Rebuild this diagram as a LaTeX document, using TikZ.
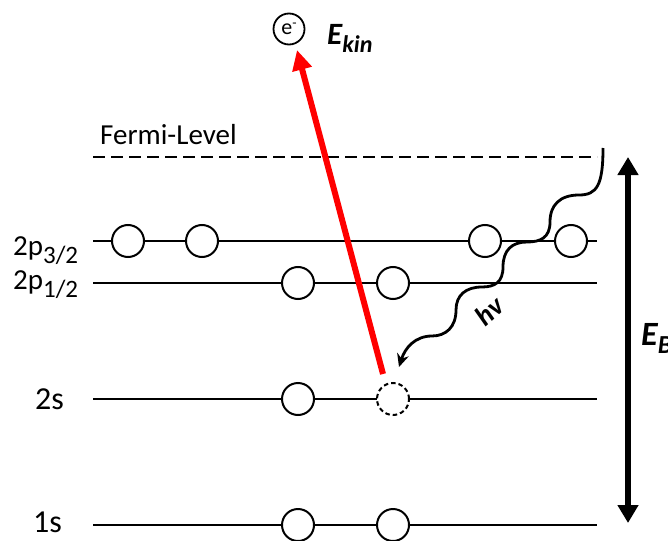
\documentclass[tikz,border=0pt]{standalone}
\usepackage{fontspec}
\setmainfont{Carlito}
\usetikzlibrary{arrows.meta}
\begin{document}
\begin{tikzpicture}[x=1pt,y=-1pt,
  level/.style={line width=2.5pt},
  elec/.style={circle,draw,line width=2pt,fill=white,minimum size=32pt,inner sep=0pt},
  lab/.style={anchor=base west,inner sep=0pt,font=\fontsize{32}{36}\selectfont},
  biglab/.style={anchor=base west,inner sep=0pt,font=\fontsize{32}{36}\selectfont\bfseries\itshape}]
\useasboundingbox (0,0) rectangle (668,540);
% level end points
\coordinate (fL) at (93,157);  \coordinate (fR) at (597,157);
\coordinate (pAL) at (93,241); \coordinate (pAR) at (597,241);
\coordinate (pBL) at (93,283); \coordinate (pBR) at (597,283);
\coordinate (sAL) at (93,399); \coordinate (sAR) at (597,399);
\coordinate (sBL) at (93,525); \coordinate (sBR) at (597,525);
\draw[level,dash pattern=on 12pt off 6pt] (fL) -- (fR);
\draw[level] (pAL) -- (pAR);
\draw[level] (pBL) -- (pBR);
\draw[level] (sAL) -- (sAR);
\draw[level] (sBL) -- (sBR);
% labels
\node[lab,font=\fontsize{29}{32}\selectfont] (fermi) at (100,145) {Fermi-Level};
\node[lab,font=\fontsize{29}{32}\selectfont] (l2p3) at (13,255) {2p\raisebox{-8pt}{\fontsize{25}{28}\selectfont 3/2}};
\node[lab,font=\fontsize{29}{32}\selectfont] (l2p1) at (13,289) {2p\raisebox{-8pt}{\fontsize{25}{28}\selectfont 1/2}};
\node[lab] (l2s) at (35,409) {2s};
\node[lab] (l1s) at (33,532) {1s};
% electrons
\node[elec] (a1) at (128,241) {};
\node[elec] (a2) at (202,241) {};
\node[elec] (a3) at (485,241) {};
\node[elec] (a4) at (571,241) {};
\node[elec] (b1) at (298,283) {};
\node[elec] (b2) at (393,283) {};
\node[elec] (c1) at (298,399) {};
\node[elec,dash pattern=on 4.5pt off 3pt] (hole) at (393,399) {};
\node[elec] (d1) at (298,525) {};
\node[elec] (d2) at (393,525) {};
% emitted electron
\node[circle,draw,line width=1.8pt,minimum size=31pt,inner sep=0pt] (el) at (289,29) {\fontsize{22}{24}\selectfont e\raisebox{7pt}{\fontsize{14}{14}\selectfont -}};
\node[biglab,font=\fontsize{31}{34}\selectfont\bfseries\itshape] (ekin) at (327,45) {E\raisebox{-8pt}{\fontsize{24}{26}\selectfont kin}};
% red arrow
\coordinate (rs) at (383,374);
\coordinate (rt) at (297,50);
\draw[red,line width=6pt,-{Triangle[length=20pt,width=19pt]}] (rs) -- (rt);
% photon
\coordinate (ws) at (603,148);
\coordinate (wt) at (399,367);
\draw[line width=2.8pt,-{Stealth[length=13pt,width=12pt]}] (ws)
  .. controls (603,185) and (597,195) .. (579,195)
  .. controls (560,195) and (550,205) .. (550,222)
  .. controls (550,238) and (540,242) .. (527,242)
  .. controls (512,242) and (503,250) .. (503,267)
  .. controls (503,282) and (495,287) .. (482,287)
  .. controls (466,287) and (456,295) .. (456,310)
  .. controls (456,327) and (446,336) .. (432,336)
  .. controls (415,336) and (405,348) .. (wt);
\node[rotate=42,font=\fontsize{28}{30}\selectfont\bfseries\itshape] (hv) at (489,311) {hv};
% binding energy arrow
\coordinate (eb1) at (628,157);
\coordinate (eb2) at (628,523);
\draw[line width=6pt,{Triangle[length=18pt,width=20pt]}-{Triangle[length=18pt,width=20pt]}] (eb1) -- (eb2);
\node[biglab,font=\fontsize{34}{36}\selectfont\bfseries\itshape] (eb) at (641,345) {E\raisebox{-8pt}{\fontsize{26}{28}\selectfont B}};
\end{tikzpicture}
\end{document}
